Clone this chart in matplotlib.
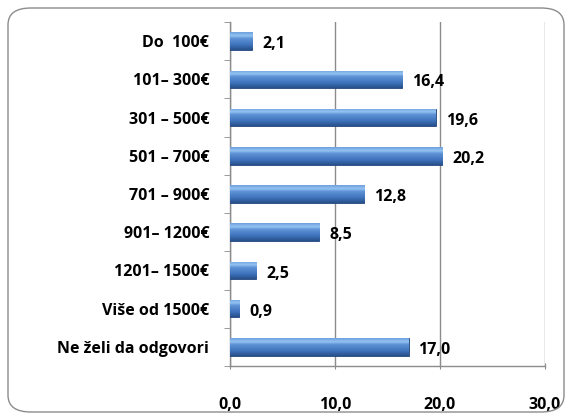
import matplotlib
matplotlib.use("Agg")
import matplotlib.pyplot as plt
import numpy as np
from matplotlib.patches import FancyBboxPatch
from matplotlib.colors import LinearSegmentedColormap

categories = ["Do  100€", "101– 300€", "301 – 500€", "501 – 700€", "701 – 900€",
              "901– 1200€", "1201– 1500€", "Više od 1500€", "Ne želi da odgovori"]
values = [2.1, 16.4, 19.6, 20.2, 12.8, 8.5, 2.5, 0.9, 17.0]
value_labels = ["2,1", "16,4", "19,6", "20,2", "12,8", "8,5", "2,5", "0,9", "17,0"]
xticks = [0, 10, 20, 30]
xtick_labels = ["0,0", "10,0", "20,0", "30,0"]

plt.rcParams['font.family'] = ['Open Sans', 'DejaVu Sans']
FS = 11.5

fig = plt.figure(figsize=(5.73, 4.19), dpi=100)
W, H = 573, 419
# rounded border
border = FancyBboxPatch((8 / W, 7 / H), 556 / W, 404 / H,
                        boxstyle="round,pad=0,rounding_size=0.04",
                        transform=fig.transFigure, fill=False,
                        edgecolor="#8c8c8c", linewidth=1.0)
fig.patches.append(border)

ax = fig.add_axes([230 / W, 1 - 366 / H, 315 / W, 344 / H])
n = len(categories)
y = np.arange(n)
bars = ax.barh(y, values, height=0.46, color="#3f74be", edgecolor="#23457a",
               linewidth=0.6, zorder=3)

cmap = LinearSegmentedColormap.from_list(
    "g", [(0.0, "#6d9fdc"), (0.2, "#95c4f2"), (0.35, "#5e93d6"),
          (0.7, "#3f74bd"), (1.0, "#27508a")])
grad = np.linspace(0, 1, 64).reshape(-1, 1)
for b in bars:
    x0, y0 = b.get_x(), b.get_y()
    w, h = b.get_width(), b.get_height()
    im = ax.imshow(grad, cmap=cmap, aspect="auto",
                   extent=(x0, x0 + w, y0, y0 + h), origin="lower",
                   zorder=3.5, interpolation="bilinear")
    im.set_clip_path(b)

for yi, v, lab in zip(y, values, value_labels):
    ax.text(v + 0.95, yi + 0.08, lab, va="center", ha="left",
            fontsize=FS, fontweight="bold", color="black", zorder=5)

ax.set_xlim(0, 30)
ax.set_ylim(n - 0.5, -0.5)
ax.set_xticks(xticks)
ax.set_xticklabels(xtick_labels, fontsize=FS, fontweight="bold")
ax.set_yticks(y)
ax.set_yticklabels(categories, fontsize=FS, fontweight="bold")
ax.tick_params(axis="y", length=0, pad=15)
ax.set_yticks(np.arange(n + 1) - 0.5, minor=True)
ax.tick_params(axis="y", which="minor", length=4, color="#8c8c8c", direction="out")
ax.tick_params(axis="x", length=5, color="#8c8c8c", direction="inout", pad=20)
ax.grid(axis="x", color="#8c8c8c", linewidth=1.0, zorder=0)
for s in ["top", "right"]:
    ax.spines[s].set_visible(False)
for s in ["left", "bottom"]:
    ax.spines[s].set_color("#8c8c8c")
    ax.spines[s].set_linewidth(1.0)

fig.savefig("out.png", dpi=100)
